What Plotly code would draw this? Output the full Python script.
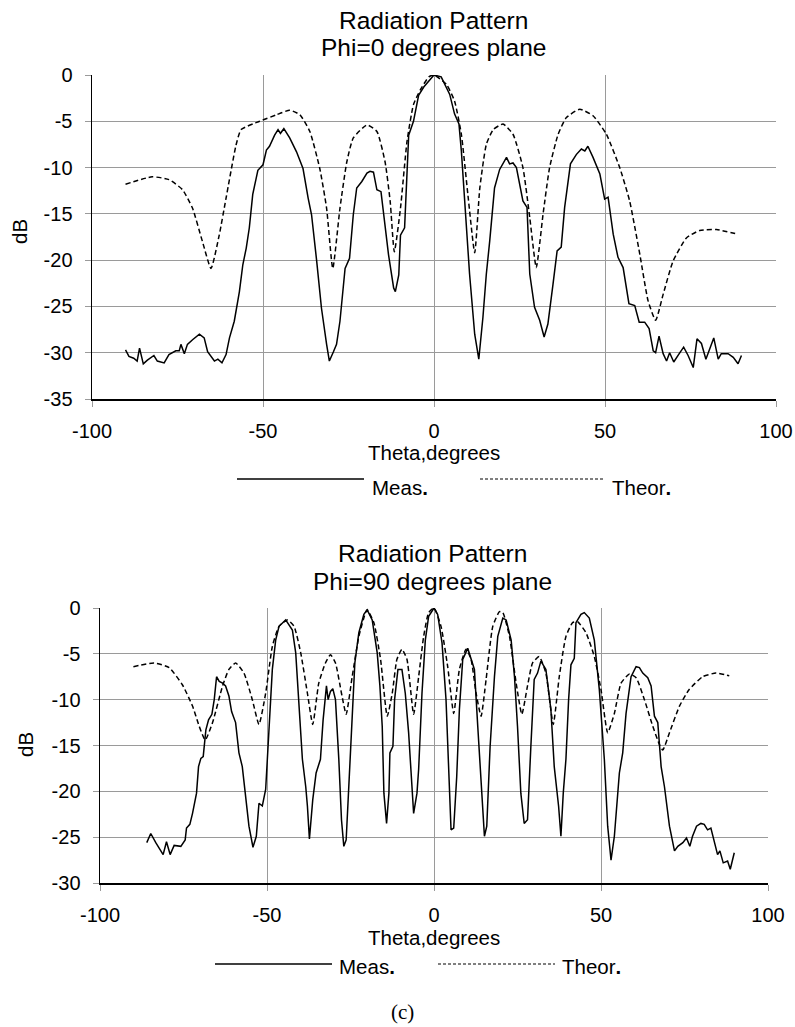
import plotly.graph_objects as go

# ---------------- data: Phi = 0 degrees plane ----------------
theta_meas_top = [-90.2, -89.2, -87.8, -86.8, -86.1, -85.0, -83.8, -81.9, -80.9, -78.9, -77.5, -75.5,
                  -74.5, -74.0, -73.0, -72.1, -70.6, -68.6, -67.2, -66.2, -64.2, -63.2, -62.0, -60.8,
                  -59.8, -58.4, -56.9, -55.9, -54.9, -54.0, -53.0, -51.5, -50.0, -49.0, -48.1, -46.6,
                  -45.6, -44.9, -43.9, -42.2, -40.2, -38.3, -36.8, -35.8, -34.3, -32.9, -31.4, -30.6,
                  -29.4, -28.5, -27.5, -26.0, -24.7, -23.6, -22.6, -21.1, -19.6, -18.7, -17.7, -16.7,
                  -15.5, -14.7, -13.3, -11.8, -11.3, -10.3, -9.8, -8.6, -7.4, -6.0, -4.5, -3.0, -1.0,
                  0.0, 2.1, 4.6, 6.0, 7.3, 8.0, 9.0, 10.4, 11.9, 13.1, 14.3, 15.3, 16.3, 17.7, 19.2,
                  20.2, 21.2, 22.1, 23.1, 24.1, 26.0, 27.2, 28.0, 29.4, 30.9, 32.2, 33.3, 34.8, 36.0,
                  37.2, 38.2, 39.9, 41.6, 43.1, 44.1, 45.0, 46.5, 48.5, 49.9, 50.9, 52.4, 53.8, 55.3,
                  57.0, 58.7, 60.0, 61.6, 62.9, 64.1, 64.8, 65.8, 67.0, 68.0, 68.9, 70.1, 71.7, 73.0,
                  74.3, 75.8, 76.9, 78.2, 79.5, 80.6, 81.8, 83.1, 84.0, 86.0, 87.5, 88.9, 89.9]
db_meas_top = [-29.7, -30.4, -30.6, -30.9, -29.5, -31.2, -30.8, -30.3, -30.9, -31.1, -30.2, -29.8,
               -29.8, -29.1, -30.1, -29.1, -28.6, -28.0, -28.4, -29.9, -30.9, -30.7, -31.1, -30.2,
               -28.4, -26.6, -23.4, -20.5, -18.7, -16.5, -12.9, -10.3, -9.7, -8.1, -7.7, -6.5,
               -5.9, -6.3, -5.8, -6.8, -8.3, -10.1, -13.3, -15.1, -20.1, -25.2, -29.1, -30.9,
               -29.9, -29.1, -26.6, -20.9, -19.8, -15.1, -12.2, -11.5, -10.6, -10.4, -10.5, -12.4,
               -12.6, -15.1, -19.4, -23.0, -23.4, -21.6, -17.3, -16.5, -6.5, -5.0, -2.2, -1.3, -0.4,
               0.0, -0.2, -2.1, -4.2, -5.3, -8.2, -13.6, -21.5, -28.0, -30.7, -26.2, -21.5, -17.9,
               -12.2, -10.2, -9.6, -8.9, -9.6, -9.5, -10.0, -13.6, -14.3, -21.5, -25.1, -26.5, -28.3,
               -26.9, -22.6, -19.0, -18.6, -14.3, -9.6, -8.6, -8.0, -8.2, -7.7, -8.9, -10.7, -13.4,
               -13.2, -17.2, -19.7, -20.8, -24.7, -24.9, -26.7, -26.7, -27.4, -29.8, -30.0, -28.2,
               -30.1, -30.9, -30.0, -31.0, -30.1, -29.4, -30.3, -31.6, -28.5, -29.0, -30.7, -29.5,
               -28.4, -30.7, -30.1, -30.1, -30.5, -31.2, -30.3]

theta_theor_top = [-90.2, -82.4, -77.5, -73.5, -70.6, -67.7, -65.2, -62.8, -60.8, -57.9, -56.4, -51.0,
                   -46.1, -42.2, -39.2, -36.3, -33.4, -31.4, -29.6, -27.5, -25.5, -23.6, -19.6, -16.7,
                   -14.3, -12.8, -11.6, -9.8, -7.9, -6.0, -4.0, -1.5, 0.0, 3.6, 6.0, 8.0, 9.9, 11.9,
                   13.4, 15.3, 17.3, 20.2, 23.1, 26.0, 28.0, 29.9, 31.9, 33.8, 36.3, 38.7, 42.6, 46.5,
                   50.4, 54.3, 57.2, 60.2, 62.6, 64.8, 67.0, 69.9, 73.8, 77.7, 82.6, 88.9]
db_theor_top = [-11.8, -11.0, -11.3, -12.4, -14.4, -18.0, -20.9, -17.3, -13.3, -7.6, -5.9, -5.0,
                -4.3, -3.8, -4.3, -6.1, -10.1, -14.4, -20.9, -14.4, -9.4, -6.8, -5.4, -6.1,
                -9.4, -13.7, -19.1, -14.4, -7.2, -3.2, -1.6, -0.2, 0.0, -1.0, -2.8, -6.4, -12.9, -19.2,
                -12.2, -7.5, -5.9, -5.3, -6.4, -10.0, -15.4, -20.8, -15.0, -10.0, -6.4, -4.6, -3.7, -4.4,
                -6.4, -10.0, -13.6, -19.4, -24.4, -26.5, -23.7, -20.1, -17.6, -16.8, -16.7, -17.2]

# ---------------- data: Phi = 90 degrees plane ----------------
theta_meas_bot = [-86.0, -84.8, -83.3, -81.1, -80.1, -79.0, -77.8, -75.8, -74.5, -74.1, -73.1, -72.3,
                  -71.1, -70.5, -69.8, -69.1, -68.3, -67.5, -66.5, -65.8, -65.1, -64.3, -63.3, -62.4,
                  -61.4, -60.6, -59.4, -58.4, -57.4, -56.4, -55.4, -54.2, -53.2, -52.4, -51.4, -50.4,
                  -49.4, -48.4, -47.4, -46.4, -44.4, -42.4, -41.4, -40.4, -39.4, -38.4, -37.9, -37.3,
                  -36.3, -35.3, -34.0, -33.2, -32.2, -31.7, -31.0, -30.3, -29.5, -28.5, -27.7, -27.0,
                  -26.3, -25.7, -24.7, -23.7, -22.5, -21.0, -20.0, -18.5, -17.0, -16.2, -15.5, -15.0,
                  -14.2, -13.5, -13.2, -12.3, -11.8, -10.8, -9.6, -8.6, -7.6, -6.6, -6.1, -5.1, -4.6,
                  -3.6, -2.6, -1.6, 0.0, 1.1, 2.4, 3.6, 4.4, 5.1, 5.9, 6.8, 7.6, 8.6, 10.1, 11.1, 12.1,
                  13.1, 14.1, 15.1, 15.8, 16.8, 18.1, 19.1, 20.6, 21.6, 23.1, 24.1, 25.0, 26.0, 27.0,
                  28.0, 29.0, 30.0, 31.0, 32.0, 33.5, 35.0, 36.0, 37.3, 38.0, 38.7, 39.5, 40.3, 41.0,
                  42.0, 42.5, 44.0, 45.0, 46.5, 48.0, 49.5, 51.0, 52.0, 53.0, 54.0, 55.5, 56.5, 57.5,
                  59.0, 60.5, 61.5, 62.5, 64.0, 65.0, 66.0, 67.0, 68.0, 69.0, 70.5, 72.0, 73.0, 74.5,
                  75.6, 76.6, 77.4, 78.6, 79.9, 80.9, 81.9, 82.9, 84.2, 84.9, 85.6, 86.6, 87.9, 88.7, 89.9]
db_meas_bot = [-25.6, -24.6, -25.6, -26.9, -25.5, -26.9, -25.9, -26.0, -25.3, -24.0, -23.6, -22.4,
               -20.2, -17.3, -16.4, -16.2, -13.3, -12.2, -11.6, -10.0, -7.5, -8.0, -8.2, -8.5,
               -9.6, -11.3, -12.5, -15.8, -17.3, -20.9, -23.8, -26.1, -24.9, -21.3, -21.6, -19.8,
               -12.9, -6.7, -3.5, -2.0, -1.3, -2.4, -4.9, -11.1, -16.5, -19.5, -21.6, -25.2,
               -20.9, -18.0, -16.5, -12.2, -8.5, -10.0, -9.1, -8.8, -10.0, -16.5, -23.1, -26.0,
               -25.3, -20.9, -12.9, -6.0, -2.7, -0.7, -0.2, -1.3, -4.9, -8.5, -12.9, -20.2,
               -23.5, -20.2, -15.8, -15.1, -10.0, -6.7, -6.7, -9.3, -13.6, -20.2, -22.4, -20.2, -17.6,
               -9.3, -3.5, -0.9, 0.0, -0.7, -3.8, -10.0, -18.0, -24.2, -24.0, -18.4, -11.1, -5.6, -4.4,
               -5.6, -6.7, -12.9, -18.4, -24.9, -23.8, -15.1, -7.5, -3.1, -1.1, -1.3, -3.5, -7.5,
               -12.9, -20.2, -23.5, -23.1, -15.1, -7.8, -7.1, -5.8, -6.7, -11.1, -17.3, -21.6, -24.9,
               -20.2, -16.5, -10.0, -6.2, -5.5, -1.6, -0.7, -0.5, -1.1, -3.5, -8.9, -16.5, -23.8,
               -27.5, -24.9, -18.0, -15.8, -11.5, -7.5, -6.4, -6.5, -7.1, -7.6, -8.5, -11.8, -12.5,
               -17.3, -19.5, -23.8, -26.5, -26.0, -25.6, -25.1, -26.0, -24.9, -23.8, -23.5, -23.6,
               -24.2, -24.0, -25.8, -26.9, -26.5, -27.8, -27.6, -28.5, -26.7]

theta_theor_bot = [-90.0, -83.8, -79.3, -75.3, -72.3, -70.3, -68.5, -66.3, -63.3, -61.4, -59.4, -56.9,
                   -54.4, -52.4, -50.4, -48.4, -46.4, -43.9, -41.9, -39.9, -37.9, -36.3, -34.5, -32.5,
                   -31.0, -29.5, -27.7, -26.3, -24.5, -22.5, -20.5, -20.0, -18.0, -16.0, -14.0, -12.5,
                   -11.1, -9.6, -8.1, -6.1, -4.6, -3.1, -1.6, 0.0, 2.1, 4.1, 5.9, 7.6, 9.6, 11.1, 12.6,
                   14.1, 15.6, 17.6, 19.6, 20.6, 22.6, 24.6, 26.3, 28.0, 29.5, 31.5, 33.5, 35.7, 37.5,
                   39.5, 41.5, 43.0, 45.5, 48.0, 50.0, 52.0, 54.0, 56.0, 58.5, 60.5, 63.0, 65.5, 67.5,
                   68.5, 70.5, 73.5, 76.4, 80.4, 84.4, 88.4]
db_theor_bot = [-6.4, -6.0, -6.5, -8.4, -10.7, -12.9, -14.4, -12.5, -8.5, -6.7, -6.0, -7.1,
                -10.0, -12.7, -9.3, -4.2, -2.0, -1.3, -2.0, -4.9, -9.3, -12.7, -8.2, -6.0,
                -5.1, -6.0, -9.3, -11.6, -7.5, -3.1, -0.5, -0.2, -1.6, -5.6, -11.8, -9.3,
                -5.6, -4.5, -5.6, -11.6, -7.5, -3.1, -0.5, 0.0, -2.0, -6.4, -11.5, -6.7, -4.5, -5.6, -9.3,
                -11.8, -7.8, -2.0, -0.4, -0.5, -3.1, -8.2, -11.6, -8.5, -6.0, -5.3, -7.1, -12.7, -7.5,
                -3.1, -1.6, -1.5, -2.7, -5.3, -8.9, -13.6, -11.5, -8.2, -7.2, -7.6, -10.0, -12.9, -14.9,
                -15.5, -13.6, -10.7, -8.9, -7.5, -7.1, -7.4]

x_ticks = [-100, -50, 0, 50, 100]
x_ticktext = ["-100", "-50", "0", "50", "100"]
y_ticks_top = [0, -5, -10, -15, -20, -25, -30, -35]
y_ticktext_top = ["0", "-5", "-10", "-15", "-20", "-25", "-30", "-35"]
y_ticks_bot = [0, -5, -10, -15, -20, -25, -30]
y_ticktext_bot = ["0", "-5", "-10", "-15", "-20", "-25", "-30"]
title_top = ["Radiation Pattern", "Phi=0 degrees plane"]
title_bot = ["Radiation Pattern", "Phi=90 degrees plane"]
legend_names = ["Meas", "Theor"]

# ---------------- figure ----------------
# the page body margin is removed (post_script), so the figure fills the window exactly
W, H = 795, 1027
SANS = "Liberation Sans, Arial, sans-serif"
GRID = "#9a9a9a"


def px(x):
    return x / W


def py(y):
    return 1 - y / H


fig = go.Figure()
fig.add_trace(go.Scatter(x=theta_meas_top, y=db_meas_top, mode="lines", xaxis="x", yaxis="y",
                         line=dict(color="black", width=1.5), showlegend=False, name=legend_names[0]))
fig.add_trace(go.Scatter(x=theta_theor_top, y=db_theor_top, mode="lines", xaxis="x", yaxis="y",
                         line=dict(color="black", width=1.5, dash="5px,3px", shape="spline", smoothing=0.5),
                         showlegend=False, name=legend_names[1]))
fig.add_trace(go.Scatter(x=theta_meas_bot, y=db_meas_bot, mode="lines", xaxis="x2", yaxis="y2",
                         line=dict(color="black", width=1.5), showlegend=False, name=legend_names[0]))
fig.add_trace(go.Scatter(x=theta_theor_bot, y=db_theor_bot, mode="lines", xaxis="x2", yaxis="y2",
                         line=dict(color="black", width=1.5, dash="5px,3px", shape="spline", smoothing=0.5),
                         showlegend=False, name=legend_names[1]))


def xax(domain, anchor):
    return dict(domain=domain, anchor=anchor, range=[-100, 100], tickvals=x_ticks, ticktext=x_ticktext,
                showgrid=True, gridcolor=GRID, gridwidth=1, zeroline=False, automargin=False,
                showline=True, linecolor="black", linewidth=1.5,
                ticks="outside", ticklen=6, tickcolor=GRID, tickwidth=1,
                tickfont=dict(family=SANS, size=20, color="black"), ticklabelstandoff=7)


def yax(domain, anchor, rng, tv, tt):
    return dict(domain=domain, anchor=anchor, range=rng, tickvals=tv, ticktext=tt,
                showgrid=True, gridcolor=GRID, gridwidth=1, zeroline=False, automargin=False,
                showline=True, linecolor="black", linewidth=1.5,
                ticks="outside", ticklen=6, tickcolor=GRID, tickwidth=1,
                tickfont=dict(family=SANS, size=20, color="black"), ticklabelstandoff=8)


fig.update_layout(
    width=W, height=H, margin=dict(l=0, r=0, t=0, b=0, autoexpand=False),
    paper_bgcolor="white", plot_bgcolor="white",
    xaxis=xax([px(92), px(776)], "y"),
    yaxis=yax([py(399), py(75)], "x", [-35, 0], y_ticks_top, y_ticktext_top),
    xaxis2=xax([px(100), px(768)], "y2"),
    yaxis2=yax([py(883), py(608)], "x2", [-30, 0], y_ticks_bot, y_ticktext_bot),
    showlegend=False,
)

ann = []


def text(x, y, s, size=20, xanchor="center", family=SANS, angle=0):
    ann.append(dict(x=px(x), y=py(y), xref="paper", yref="paper", text=s, showarrow=False,
                    xanchor=xanchor, yanchor="middle", textangle=angle,
                    font=dict(family=family, size=size, color="black")))


# titles
text(433, 21, title_top[0], size=24.5)
text(433, 48, title_top[1], size=24.5)
text(432, 553, title_bot[0], size=24.5)
text(432, 581, title_bot[1], size=24.5)
# axis titles
text(434, 453, "Theta,degrees", size=20.5)
text(434, 937, "Theta,degrees", size=20.5)
text(19, 232, "dB", size=20.5, angle=-90)
text(25, 745, "dB", size=20.5, angle=-90)
# legends
text(370, 488, legend_names[0] + "<b>.</b>", size=20.5, xanchor="left")
text(610, 488, legend_names[1] + "<b>.</b>", size=20.5, xanchor="left")
text(337, 966, legend_names[0] + "<b>.</b>", size=20.5, xanchor="left")
text(560, 966, legend_names[1] + "<b>.</b>", size=20.5, xanchor="left")
# caption
text(402, 1012, "(c)", size=21, family="Liberation Serif, Times New Roman, serif")

shapes = [
    dict(type="line", xref="paper", yref="paper", x0=px(237), x1=px(364), y0=py(479), y1=py(479),
         line=dict(color="black", width=1.5)),
    dict(type="line", xref="paper", yref="paper", x0=px(480), x1=px(605), y0=py(479), y1=py(479),
         line=dict(color="black", width=1, dash="3px,2px")),
    dict(type="line", xref="paper", yref="paper", x0=px(215), x1=px(332), y0=py(964), y1=py(964),
         line=dict(color="black", width=1.5)),
    dict(type="line", xref="paper", yref="paper", x0=px(438), x1=px(555), y0=py(964), y1=py(964),
         line=dict(color="black", width=1, dash="3px,2px")),
]

fig.update_layout(annotations=ann, shapes=shapes)
fig.write_html("out.html", config={"displayModeBar": False, "staticPlot": True},
               post_script="document.body.style.margin='0';document.body.style.overflow='hidden';")
